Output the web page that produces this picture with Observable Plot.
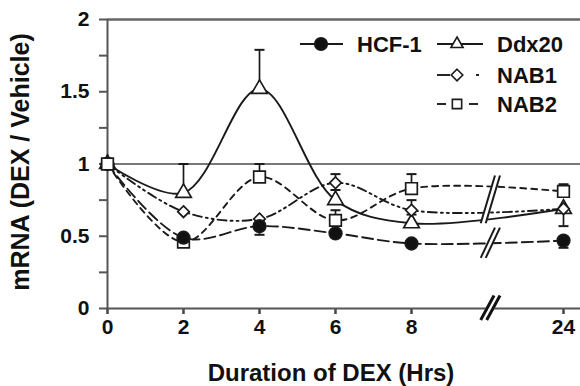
<!DOCTYPE html>
<html><head><meta charset="utf-8">
<script src="https://cdn.jsdelivr.net/npm/d3@7"></script>
<script src="https://cdn.jsdelivr.net/npm/@observablehq/plot@0.6"></script>
<style>body{margin:0;background:#fff} svg{display:block}</style>
</head><body><div id="chart"></div>
<script>
// ---- data ----
const hours = [0, 2, 4, 6, 8, 24];
const seriesNames = ["HCF-1", "Ddx20", "NAB1", "NAB2"];
const hcf1   = [1.0, 0.49, 0.57, 0.52, 0.45, 0.47];
const ddx20  = [1.0, 0.80, 1.52, 0.75, 0.59, 0.69];
const nab1   = [1.0, 0.67, 0.62, 0.87, 0.68, 0.69];
const nab2   = [1.0, 0.46, 0.91, 0.61, 0.83, 0.81];
// signed error bars (+ drawn upward, - drawn downward, 0 none)
const hcf1Err  = [0, 0, -0.06, 0, 0, -0.05];
const ddx20Err = [0, 0.20, 0.27, 0.07, 0.06, 0];
const nab1Err  = [0, 0, 0, 0.06, 0.07, -0.12];
const nab2Err  = [0, 0, 0.09, 0.07, 0.10, 0.05];
const xTicks = [0, 2, 4, 6, 8, 24];
const yTicks = [0, 0.5, 1, 1.5, 2];
const yMinor = [0.25, 0.75, 1.25, 1.75];
const refValue = 1;
const breakHour = 16.3;
const breakSpans = [[0.59, 0.92], [0.35, 0.56]];
const axisBreakSpan = [-0.08, 0.09];

// ---- build tables ----
const values = [hcf1, ddx20, nab1, nab2];
const errs = [hcf1Err, ddx20Err, nab1Err, nab2Err];
const table = seriesNames.map((s, i) => hours.map((h, j) => ({series: s, hour: h, value: values[i][j], err: errs[i][j]})));

const ink = "#1a1a1a";
const styles = {
  "HCF-1": {dash: "11,5", symbol: "circle", fill: "#111", r: 6.3},
  "Ddx20": {dash: null, symbol: "triangle", fill: "#fff", r: 5.8},
  "NAB1":  {dash: "9,4,2,4,2,4", symbol: "diamond2", fill: "#fff", r: 5.2},
  "NAB2":  {dash: "6,5", symbol: "square2", fill: "#fff", r: 7.4}
};
const cap = {draw(ctx, size) { const w = Math.sqrt(size / Math.PI); ctx.moveTo(-w, 0); ctx.lineTo(w, 0); }};

const marks = [
  Plot.ruleY([refValue], {stroke: "#777", strokeWidth: 2}),
  Plot.ruleY([2], {stroke: "#666", strokeWidth: 2.5}),
  Plot.axisY(yMinor, {tickSize: 8, tickFormat: () => "", stroke: "#555", strokeWidth: 2, label: null}),
  Plot.axisY(yTicks, {tickSize: 8, tickPadding: 10, tickFormat: d => String(d), stroke: "#555", strokeWidth: 2, fontSize: 21, fill: "#111", label: null}),
  Plot.axisX(xTicks, {tickSize: 6, tickPadding: 5, tickFormat: d => String(d), stroke: "#444", strokeWidth: 2.5, fontSize: 21, fill: "#111", label: null}),
  Plot.ruleY([0], {stroke: "#555", strokeWidth: 2}),
  Plot.ruleX([0], {y1: 0, y2: 2, stroke: "#555", strokeWidth: 2})
];
table.forEach(rows => {
  const st = styles[rows[0].series];
  marks.push(Plot.line(rows, {x: "hour", y: "value", curve: "catmull-rom", stroke: ink, strokeWidth: 1.9, strokeDasharray: st.dash}));
});
// break marks across the lines
breakSpans.forEach(([a, b]) => {
  const d = [{y1: a, y2: b}];
  marks.push(Plot.link(d, {x1: breakHour - 0.75, x2: breakHour + 0.75, y1: "y1", y2: "y2", stroke: "#fff", strokeWidth: 6}));
  marks.push(Plot.link(d, {x1: breakHour - 0.75, x2: breakHour + 0.75, y1: "y1", y2: "y2", stroke: ink, strokeWidth: 2, dx: -2.5}));
  marks.push(Plot.link(d, {x1: breakHour - 0.75, x2: breakHour + 0.75, y1: "y1", y2: "y2", stroke: ink, strokeWidth: 2, dx: 2.5}));
});
{
  const d = [{y1: axisBreakSpan[0], y2: axisBreakSpan[1]}];
  marks.push(Plot.link(d, {x1: breakHour - 0.7, x2: breakHour + 0.7, y1: "y1", y2: "y2", stroke: "#fff", strokeWidth: 8}));
  marks.push(Plot.link(d, {x1: breakHour - 0.7, x2: breakHour + 0.7, y1: "y1", y2: "y2", stroke: "#111", strokeWidth: 3, dx: -3}));
  marks.push(Plot.link(d, {x1: breakHour - 0.7, x2: breakHour + 0.7, y1: "y1", y2: "y2", stroke: "#111", strokeWidth: 3, dx: 3}));
}
// error bars
const errRows = table.flat().filter(d => d.err !== 0);
marks.push(Plot.ruleX(errRows, {x: "hour", y1: "value", y2: d => d.value + d.err, stroke: ink, strokeWidth: 1.7}));
marks.push(Plot.dot(errRows, {x: "hour", y: d => d.value + d.err, symbol: cap, r: 5, stroke: ink, strokeWidth: 2}));
// markers (HCF-1 first-point below, later points above the open squares)
const drawDots = (rows) => {
  const st = styles[rows[0].series];
  marks.push(Plot.dot(rows, {x: "hour", y: "value", symbol: st.symbol, r: st.r, fill: st.fill, stroke: ink, strokeWidth: 1.7}));
};
drawDots(table[0].filter(d => d.hour === 0));
drawDots(table[1]);
drawDots(table[2]);
drawDots(table[3]);
drawDots(table[0].filter(d => d.hour !== 0));

const svg = Plot.plot({
  width: 580, height: 386,
  marginLeft: 107, marginRight: 0, marginTop: 19, marginBottom: 78,
  x: {type: "linear", domain: [0, 8, 24], range: [107, 411, 563]},
  y: {domain: [0, 2]},
  style: {fontFamily: "'Liberation Sans', Arial, sans-serif", fontWeight: "bold", background: "#fff", color: "#111"},
  marks
});

// titles and legend
const g = d3.select(svg).append("g").attr("font-family", "'Liberation Sans', Arial, sans-serif").attr("font-weight", "bold").attr("fill", "#111");
g.append("text").attr("transform", "translate(29,162) rotate(-90)").attr("text-anchor", "middle").attr("font-size", 25).text("mRNA (DEX / Vehicle)");
g.append("text").attr("x", 331).attr("y", 381).attr("text-anchor", "middle").attr("font-size", 24).text("Duration of DEX (Hrs)");

const legend = [
  {name: "HCF-1", y: 44, sample: [[300, 343]], mx: 321, lx: 357},
  {name: "Ddx20", y: 44, sample: [[437, 483]], mx: 457, lx: 497},
  {name: "NAB1",  y: 75, sample: [[437, 450], [476, 479]], mx: 457, lx: 497},
  {name: "NAB2",  y: 104, sample: [[437, 446], [469, 478]], mx: 457, lx: 497}
];
const symMap = {circle: d3.symbolCircle, triangle: d3.symbolTriangle2, diamond2: d3.symbolDiamond2, square2: d3.symbolSquare2};
legend.forEach(L => {
  const st = styles[L.name];
  L.sample.forEach(([a, b]) => g.append("line").attr("x1", a).attr("x2", b).attr("y1", L.y).attr("y2", L.y).attr("stroke", ink).attr("stroke-width", 1.9));
  const rr = L.name === "NAB2" ? st.r * 0.8 : st.r;
  g.append("path").attr("d", d3.symbol(symMap[st.symbol], Math.PI * rr * rr)()).attr("transform", `translate(${L.mx},${L.y})`)
    .attr("fill", st.fill).attr("stroke", ink).attr("stroke-width", 1.6);
  g.append("text").attr("x", L.lx).attr("y", L.y).attr("dy", "0.36em").attr("text-anchor", "start").attr("font-size", 22).text(L.name);
});

document.getElementById("chart").appendChild(svg);
</script></body></html>
